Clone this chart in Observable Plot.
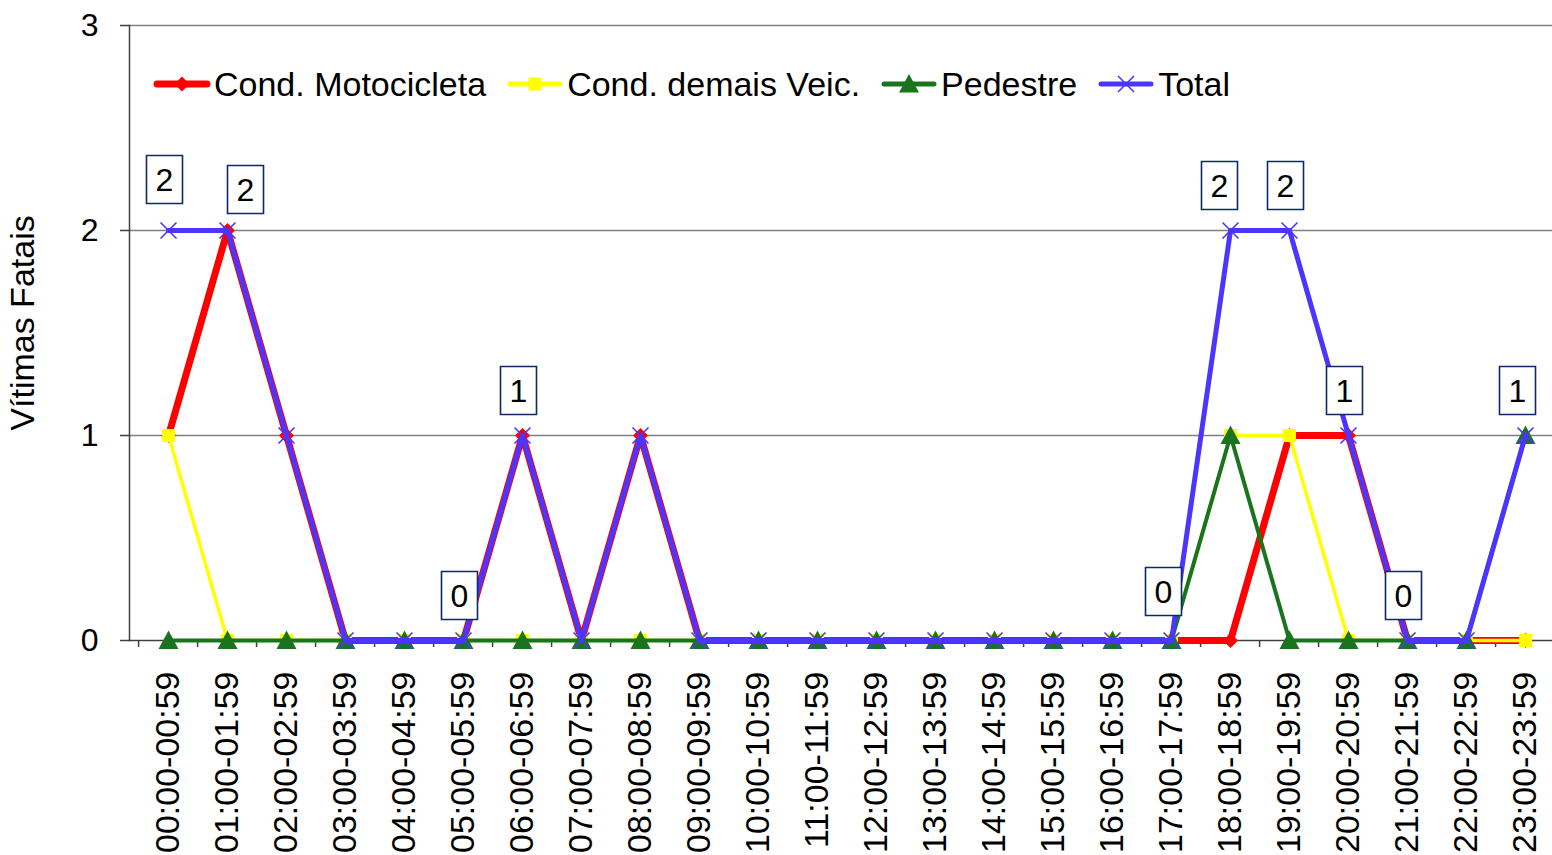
<!DOCTYPE html>
<html>
<head>
<meta charset="utf-8">
<script src="https://cdn.jsdelivr.net/npm/d3@7"></script>
<script src="https://cdn.jsdelivr.net/npm/@observablehq/plot@0.6"></script>
<style>
  html, body { margin: 0; padding: 0; background: #fff; overflow: hidden; }
  #wrap { position: relative; width: 1552px; height: 855px; font-family: "Liberation Sans", Arial, sans-serif; }
  #legend { position: absolute; left: 153px; top: 66px; display: flex; align-items: center; gap: 20px; font-size: 34px; color: #000; line-height: 36px; }
  #legend .item { display: flex; align-items: center; }
  #legend svg { display: block; margin-right: 3px; }
</style>
</head>
<body>
<div id="wrap"><div id="chart"></div><div id="legend"></div></div>
<script>
// ---- data ----
const hours = ["00:00-00:59","01:00-01:59","02:00-02:59","03:00-03:59","04:00-04:59","05:00-05:59",
  "06:00-06:59","07:00-07:59","08:00-08:59","09:00-09:59","10:00-10:59","11:00-11:59",
  "12:00-12:59","13:00-13:59","14:00-14:59","15:00-15:59","16:00-16:59","17:00-17:59",
  "18:00-18:59","19:00-19:59","20:00-20:59","21:00-21:59","22:00-22:59","23:00-23:59"];
const motocicleta = [1,2,1,0,0,0,1,0,1,0,0,0,0,0,0,0,0,0,0,1,1,0,0,0];
const demaisVeic  = [1,0,0,0,0,0,0,0,0,0,0,0,0,0,0,0,0,0,1,1,0,0,0,0];
const pedestre    = [0,0,0,0,0,0,0,0,0,0,0,0,0,0,0,0,0,0,1,0,0,0,0,1];
const total       = [2,2,1,0,0,0,1,0,1,0,0,0,0,0,0,0,0,0,2,2,1,0,0,1];
const labeledHours = ["00:00-00:59","01:00-01:59","05:00-05:59","06:00-06:59","17:00-17:59",
  "18:00-18:59","19:00-19:59","20:00-20:59","21:00-21:59","23:00-23:59"];
const seriesNames = ["Cond. Motocicleta","Cond. demais Veic.","Pedestre","Total"];
const yTicks = [0,1,2,3];
const yLabel = "Vítimas Fatais";

// ---- styles ----
const colors = {moto: "#ff0000", demais: "#ffff00", ped: "#1a741e", total: "#4b35ff"};
const labelNudge = {"00:00-00:59": [0, -6], "01:00-01:59": [22, 4], "17:00-17:59": [-4, -4], "18:00-18:59": [-7, 0], "23:00-23:59": [-4, 0]};
const step = 59.83; // category width in px
const left = 129;

const rows = hours.map((h, i) => ({hour: h, moto: motocicleta[i], demais: demaisVeic[i], ped: pedestre[i], total: total[i]}));

const diamond = {draw(c) { c.moveTo(0,-7.5); c.lineTo(7.5,0); c.lineTo(0,7.5); c.lineTo(-7.5,0); c.closePath(); }};
const square = {draw(c) { c.rect(-6.5,-6.5,13,13); }};
const triangle = {draw(c) { c.moveTo(0,-10); c.lineTo(10,8.5); c.lineTo(-10,8.5); c.closePath(); }};
const cross = {draw(c) { c.moveTo(-8,-8); c.lineTo(8,8); c.moveTo(8,-8); c.lineTo(-8,8); }};
const box = {draw(c) { c.rect(-18,-24,36,48); }};

const labelMarks = [];
for (const h of labeledHours) {
  const [ndx, ndy] = labelNudge[h] || [0, 0];
  const d = rows.filter(r => r.hour === h);
  labelMarks.push(Plot.dot(d, {x: "hour", y: "total", symbol: box, fill: "white", stroke: "#0d2a63", strokeWidth: 1.6, dx: -4 + ndx, dy: -45 + ndy}));
  labelMarks.push(Plot.text(d, {x: "hour", y: "total", text: r => String(r.total), fontSize: 32, fill: "#000", dx: -4 + ndx, dy: -44 + ndy}));
}

function series(key, color, width, symbol, symOpts) {
  return [
    Plot.line(rows, {x: "hour", y: key, stroke: color, strokeWidth: width, strokeLinejoin: "round", strokeLinecap: "round"}),
    Plot.dot(rows, {x: "hour", y: key, symbol, ...symOpts})
  ];
}

const chart = Plot.plot({
  width: 1552,
  height: 855,
  marginLeft: left,
  marginTop: 25,
  marginBottom: 215,
  marginRight: 0,
  x: {type: "point", domain: hours, padding: 0, range: [left + step / 2, left + step * 23.5]},
  y: {domain: [0, 3]},
  style: {fontFamily: '"Liberation Sans", Arial, sans-serif', fontSize: "32px", color: "#000", background: "white", overflow: "visible"},
  marks: [
    Plot.gridY(yTicks.filter(t => t > 0), {stroke: "#808080", strokeOpacity: 1, strokeWidth: 1.5}),
    Plot.frame({anchor: "left", stroke: "#404040", strokeWidth: 1.5}),
    Plot.frame({anchor: "bottom", stroke: "#404040", strokeWidth: 1.5}),
    Plot.ruleX(hours, {x: d => d, dx: -step / 2, y1: 0, y2: 0, insetBottom: -7, stroke: "#404040", strokeWidth: 1.5}),
    Plot.axisY({ticks: yTicks, tickSize: 9, tickPadding: 22, stroke: "#404040", strokeWidth: 1.5, fontSize: 32, tickFormat: d => String(d), label: null}),
    Plot.axisX({tickSize: 0, tickPadding: 31, tickRotate: -90, fontSize: 34, label: null}),
    Plot.text([yLabel], {frameAnchor: "left", textAnchor: "middle", rotate: -90, dx: -106, dy: -10, fontSize: 34, fill: "#000"}),
    ...series("moto", colors.moto, 7, diamond, {fill: colors.moto, stroke: "none"}),
    ...series("demais", colors.demais, 3.5, square, {fill: colors.demais, stroke: "none"}),
    ...series("ped", colors.ped, 4, triangle, {fill: colors.ped, stroke: "none"}),
    ...series("total", colors.total, 5, cross, {fill: "none", stroke: colors.total, strokeWidth: 1.6}),
    ...labelMarks
  ]
});
document.getElementById("chart").appendChild(chart);

// ---- legend ----
const legendSpec = [
  {name: seriesNames[0], color: colors.moto, width: 7, sym: "M0,-7.5L7.5,0L0,7.5L-7.5,0Z", fill: colors.moto, stroke: "none"},
  {name: seriesNames[1], color: colors.demais, width: 5, sym: "M-6.5,-6.5h13v13h-13Z", fill: colors.demais, stroke: "none"},
  {name: seriesNames[2], color: colors.ped, width: 5, sym: "M0,-10L10,8.5L-10,8.5Z", fill: colors.ped, stroke: "none"},
  {name: seriesNames[3], color: colors.total, width: 5, sym: "M-8,-8L8,8M8,-8L-8,8", fill: "none", stroke: colors.total}
];
const legend = document.getElementById("legend");
for (const s of legendSpec) {
  const item = document.createElement("div");
  item.className = "item";
  item.innerHTML = `<svg width="58" height="30" viewBox="0 0 58 30">
    <line x1="4" y1="15" x2="54" y2="15" stroke="${s.color}" stroke-width="${s.width}" stroke-linecap="round"/>
    <path transform="translate(29,15)" d="${s.sym}" fill="${s.fill}" stroke="${s.stroke}" stroke-width="1.6"/>
  </svg><span>${s.name}</span>`;
  legend.appendChild(item);
}
</script>
</body>
</html>
